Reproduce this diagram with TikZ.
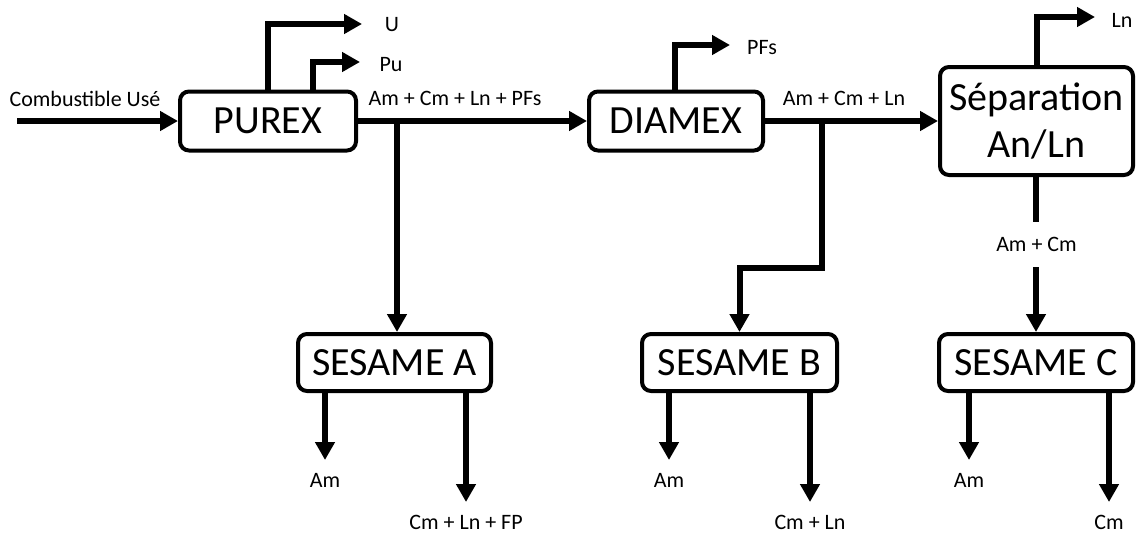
\documentclass[tikz,border=0pt]{standalone}
\usepackage{fontspec}
\setmainfont{Carlito}
\usetikzlibrary{arrows.meta}
\begin{document}
\begin{tikzpicture}[x=1pt,y=-1pt,
  box/.style={draw, line width=4pt, rounded corners=9pt, fill=white, inner sep=0pt, font=\fontsize{40}{47}\selectfont, align=center},
  arr/.style={line width=6pt, -{Triangle[length=18pt,width=19pt]}},
  lab/.style={font=\fontsize{22}{26}\selectfont, inner sep=0pt}
]
\useasboundingbox (0,0) rectangle (1137,533);
% boxes
\node[box, minimum width=176pt, minimum height=59pt] (purex) at (268,121) {PUREX};
\node[box, minimum width=174pt, minimum height=59pt] (diamex) at (676,121) {DIAMEX};
\node[box, minimum width=193pt, minimum height=108pt] (sep) at (1036.5,121) {Séparation\\An/Ln};
\node[box, minimum width=193pt, minimum height=57pt] (sesA) at (394.5,362.5) {SESAME A};
\node[box, minimum width=195pt, minimum height=57pt] (sesB) at (739.5,362.5) {SESAME B};
\node[box, minimum width=194pt, minimum height=57pt] (sesC) at (1036,362.5) {SESAME C};
% coordinates
\coordinate (in) at (17,121);
\coordinate (uend) at (362,24);
\coordinate (puend) at (360,62);
\coordinate (pfend) at (730,45);
\coordinate (lnend) at (1095,17);
\coordinate (jA) at (397,121);
\coordinate (jB) at (822,121);
\coordinate (bend) at (739.5,267.5);
\coordinate (aAm) at (325,460);
\coordinate (aCmA) at (466,502);
\coordinate (bAm) at (669,460);
\coordinate (bCm) at (810,502);
\coordinate (cAm) at (969,460);
\coordinate (cCm) at (1109,502);
% labels
\node[lab] (lcomb) at (85,99) {Combustible Usé};
\node[lab] (lU) at (392,25) {U};
\node[lab] (lPu) at (391,65) {Pu};
\node[lab] (lmix1) at (455,98) {Am + Cm + Ln + PFs};
\node[lab] (lPF) at (762,48) {PFs};
\node[lab] (lmix2) at (844,98) {Am + Cm + Ln};
\node[lab] (lLn) at (1122,20) {Ln};
\node[lab] (lAmA) at (325,480) {Am};
\node[lab] (lCmA) at (466,522) {Cm + Ln + FP};
\node[lab] (lAmB) at (669,480) {Am};
\node[lab] (lCmB) at (810,522) {Cm + Ln};
\node[lab] (lAmC) at (969,480) {Am};
\node[lab] (lCmC) at (1109,522) {Cm};
% connectors
\draw[arr] (in) -- (purex.west);
\draw[arr] (purex.north) |- (uend);
\draw[arr] ([xshift=44.5pt]purex.north) |- (puend);
\draw[arr] (purex.east) -- (diamex.west);
\draw[arr] (jA) -- (jA |- sesA.north);
\draw[arr] ([xshift=-1pt]diamex.north) |- (pfend);
\draw[arr] (diamex.east) -- (sep.west);
\draw[arr] (jB) |- (bend) -- (bend |- sesB.north);
\draw[arr] (sep.north) |- (lnend);
\draw[arr] (sesC.north |- sep.south) -- (sesC.north);
\node[lab, fill=white, inner xsep=2pt, minimum height=45pt] (lAmCm) at (1036.5,244.5) {Am + Cm};
\draw[arr] (aAm |- sesA.south) -- (aAm);
\draw[arr] (aCmA |- sesA.south) -- (aCmA);
\draw[arr] (bAm |- sesB.south) -- (bAm);
\draw[arr] (bCm |- sesB.south) -- (bCm);
\draw[arr] (cAm |- sesC.south) -- (cAm);
\draw[arr] (cCm |- sesC.south) -- (cCm);
\end{tikzpicture}
\end{document}
